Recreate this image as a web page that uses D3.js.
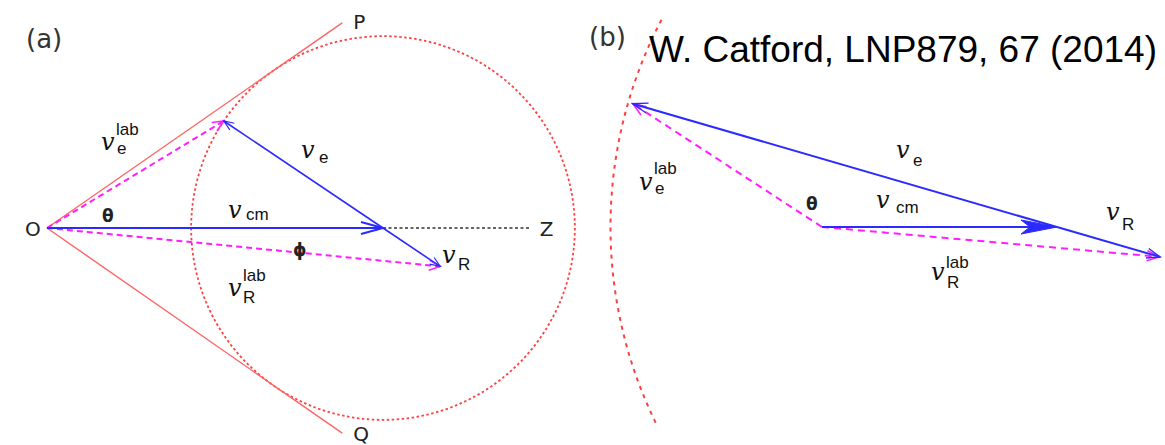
<!DOCTYPE html>
<html>
<head>
<meta charset="utf-8">
<script src="https://cdn.jsdelivr.net/npm/d3@7"></script>
<style>
  html, body { margin: 0; padding: 0; background: #fff; }
  svg { display: block; }
  .v { font-family: "DejaVu Serif", serif; font-style: italic; font-size: 24px; fill: #111; }
  .sub { font-family: "Liberation Sans", Arial, sans-serif; font-size: 17px; fill: #111; }
  .pt { font-family: "DejaVu Sans", sans-serif; font-size: 20px; fill: #222; }
  .greek { font-family: "DejaVu Sans", sans-serif; font-weight: bold; font-size: 17px; fill: #222; }
  .panel { font-family: "DejaVu Sans", sans-serif; font-size: 26px; fill: #333; }
  .title { font-family: "Liberation Sans", Arial, sans-serif; font-size: 37px; fill: #000; }
</style>
</head>
<body>
<script>
// ---------------- data (velocity units, v_cm = 1) ----------------
const vectorNames = ["v_cm", "v_e", "v_R"];
// panel (a): magnitudes and directions (degrees from the beam axis OZ)
const speedsA = [1.00, 0.571, 0.205];
const anglesA = [0, 146.1, -33.9];
// panel (b)
const speedsB = [1.00, 1.88, 0.456];
const anglesB = [0, 163.8, -16.2];
// radius of the locus of v_e^lab tips (a: circle, b: arc)
const locusRadius = [0.571, 1.90];
// tangent lines OP / OQ in panel (a): length, half-angle (deg)
const tangentA = [1.07, 34.8];
const tangentLabels = ["P", "Q"];
// axis OZ extension in panel (a)
const zAxisEnd = [1.44];
// arc extent in panel (b), degrees
const arcB = [152, 206];
const panelLabels = ["(a)", "(b)"];
const titleText = ["W. Catford, LNP879, 67 (2014)"];

// ---------------- setup ----------------
const W = 1165, H = 445;
const svg = d3.select("body").append("svg").attr("width", W).attr("height", H);

const xA = d3.scaleLinear().domain([0, 1]).range([47, 383]);
const yA = d3.scaleLinear().domain([0, 1]).range([228, -108]);
const xB = d3.scaleLinear().domain([0, 1]).range([822, 1057]);
const yB = d3.scaleLinear().domain([0, 1]).range([227, -8]);

const BLUE = "#2b2bff", MAG = "#ff1eff", RED = "#ff4040", REDL = "#ff6464";
const rad = d => d * Math.PI / 180;

function vecs(speeds, angles) {
  const cm = [speeds[0] * Math.cos(rad(angles[0])), speeds[0] * Math.sin(rad(angles[0]))];
  const e = [cm[0] + speeds[1] * Math.cos(rad(angles[1])), cm[1] + speeds[1] * Math.sin(rad(angles[1]))];
  const r = [cm[0] + speeds[2] * Math.cos(rad(angles[2])), cm[1] + speeds[2] * Math.sin(rad(angles[2]))];
  return { o: [0, 0], cm, e, r };
}

function chevron(g, p0, p1, len, hw, color, width, filled) {
  const dx = p1[0] - p0[0], dy = p1[1] - p0[1];
  const L = Math.hypot(dx, dy), ux = dx / L, uy = dy / L;
  const bx = p1[0] - ux * len, by = p1[1] - uy * len;
  const a = [bx - uy * hw, by + ux * hw], b = [bx + uy * hw, by - ux * hw];
  if (filled) {
    const n = [p1[0] - ux * len * 0.75, p1[1] - uy * len * 0.75];
    g.append("path").attr("d", `M${a}L${p1}L${b}L${n}Z`).attr("fill", color).attr("stroke", color).attr("stroke-width", 1);
  } else {
    g.append("path").attr("d", `M${a}L${p1}L${b}`).attr("fill", "none")
      .attr("stroke", color).attr("stroke-width", width).attr("stroke-linejoin", "miter");
  }
}

function arrow(g, p0, p1, opt) {
  g.append("line").attr("x1", p0[0]).attr("y1", p0[1]).attr("x2", p1[0]).attr("y2", p1[1])
    .attr("stroke", opt.color).attr("stroke-width", opt.width)
    .attr("stroke-dasharray", opt.dash || null);
  chevron(g, p0, p1, opt.len, opt.hw, opt.color, opt.headWidth || opt.width, opt.filled);
}

function vLabel(g, x, y, sub, sup, subDx, subDy, supDx, supDy) {
  g.append("text").attr("class", "v").attr("x", x).attr("y", y).text("v");
  if (sub) g.append("text").attr("class", "sub").attr("x", x + subDx).attr("y", y + subDy).text(sub);
  if (sup) g.append("text").attr("class", "sub").attr("x", x + supDx).attr("y", y + supDy).text(sup);
}

// ---------------- panel (a) ----------------
const gA = svg.append("g");
const A = vecs(speedsA, anglesA);
const pA = p => [xA(p[0]), yA(p[1])];
const O = pA(A.o), CMa = pA(A.cm), Ea = pA(A.e), Ra = pA(A.r);

// locus circle
gA.append("circle").attr("cx", CMa[0]).attr("cy", CMa[1]).attr("r", xA(locusRadius[0]) - xA(0))
  .attr("fill", "none").attr("stroke", RED).attr("stroke-width", 1.8).attr("stroke-dasharray", "2.5,2.5");

// tangent lines
[1, -1].forEach((s, i) => {
  const end = pA([tangentA[0] * Math.cos(rad(tangentA[1])), s * tangentA[0] * Math.sin(rad(tangentA[1]))]);
  gA.append("line").attr("x1", O[0]).attr("y1", O[1]).attr("x2", end[0]).attr("y2", end[1])
    .attr("stroke", REDL).attr("stroke-width", 1.4);
  gA.append("text").attr("class", "pt").attr("x", end[0] + 11).attr("y", end[1] + (i === 0 ? 6 : 8)).text(tangentLabels[i]);
});

// OZ extension
const Zend = pA([zAxisEnd[0], 0]);
gA.append("line").attr("x1", CMa[0]).attr("y1", CMa[1]).attr("x2", Zend[0]).attr("y2", Zend[1])
  .attr("stroke", "#333").attr("stroke-width", 1.5).attr("stroke-dasharray", "3,2.5");

// lab-frame vectors (magenta dashed)
arrow(gA, O, Ea, { color: MAG, width: 2, dash: "6,4", len: 11, hw: 5, headWidth: 1.5 });
arrow(gA, O, Ra, { color: MAG, width: 2, dash: "6,4", len: 11, hw: 5, headWidth: 1.5 });
// cm-frame vectors (blue)
arrow(gA, O, CMa, { color: BLUE, width: 2, len: 22, hw: 6 });
arrow(gA, CMa, Ea, { color: BLUE, width: 1.6, len: 10, hw: 4, headWidth: 1.2 });
arrow(gA, CMa, Ra, { color: BLUE, width: 1.6, len: 10, hw: 4, headWidth: 1.2 });

// labels
gA.append("text").attr("class", "panel").attr("x", 26).attr("y", 48).text(panelLabels[0]);
gA.append("text").attr("class", "pt").attr("x", O[0] - 22).attr("y", O[1] + 8).text("O");
gA.append("text").attr("class", "pt").attr("x", Zend[0] + 9).attr("y", Zend[1] + 8).text("Z");
gA.append("text").attr("class", "greek").attr("x", 102).attr("y", 222).text("θ");
gA.append("text").attr("class", "greek").attr("x", 293).attr("y", 256).text("ϕ");
vLabel(gA, 101, 150, "e", "lab", 16, 4, 15, -15);
vLabel(gA, 301, 158, "e", null, 18, 5);
vLabel(gA, 228, 218, "cm", null, 18, 2);
vLabel(gA, 442, 263, "R", null, 16, 7);
vLabel(gA, 228, 296, "R", "lab", 15, 7, 15, -15);

// ---------------- panel (b) ----------------
const gB = svg.append("g");
const B = vecs(speedsB, anglesB);
const pB = p => [xB(p[0]), yB(p[1])];
const S = pB(B.o), CMb = pB(B.cm), Eb = pB(B.e), Rb = pB(B.r);

// locus arc
const rB = xB(locusRadius[1]) - xB(0);
const arcPath = d3.path();
arcPath.arc(CMb[0], CMb[1], rB, rad(-arcB[1]), rad(-arcB[0]), false);
gB.append("path").attr("d", arcPath.toString()).attr("fill", "none")
  .attr("stroke", RED).attr("stroke-width", 2).attr("stroke-dasharray", "4,5");

arrow(gB, S, Eb, { color: MAG, width: 2, dash: "7,5", len: 13, hw: 5, headWidth: 1.5 });
arrow(gB, S, Rb, { color: MAG, width: 2, dash: "7,5", len: 13, hw: 5, headWidth: 1.5 });
arrow(gB, S, CMb, { color: BLUE, width: 2.2, len: 36, hw: 7, filled: true });
arrow(gB, CMb, Eb, { color: BLUE, width: 2, len: 15, hw: 5, headWidth: 1.4 });
arrow(gB, CMb, Rb, { color: BLUE, width: 2, len: 13, hw: 5, headWidth: 1.4 });

gB.append("text").attr("class", "panel").attr("x", 589).attr("y", 46).text(panelLabels[1]);
gB.append("text").attr("class", "title").attr("x", 649).attr("y", 62).text(titleText[0]);
gB.append("text").attr("class", "greek").attr("x", 806).attr("y", 210).text("θ");
vLabel(gB, 639, 190, "e", "lab", 16, 4, 15, -16);
vLabel(gB, 896, 158, "e", null, 17, 8);
vLabel(gB, 876, 208, "cm", null, 20, 5);
vLabel(gB, 931, 280, "R", "lab", 16, 8, 15, -12);
vLabel(gB, 1106, 220, "R", null, 16, 10);
</script>
</body>
</html>
